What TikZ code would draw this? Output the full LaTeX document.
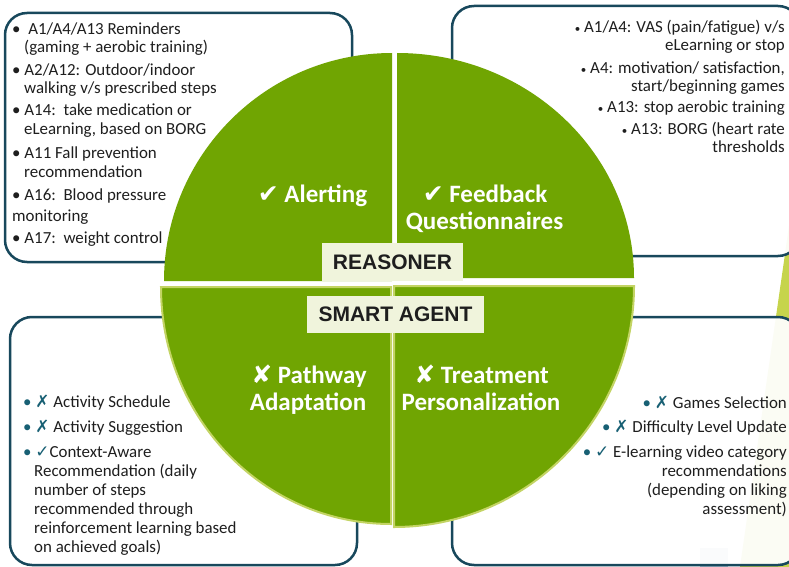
\documentclass[tikz,border=0pt]{standalone}
\usepackage{fontspec}
\setmainfont{Carlito}
\newfontfamily\symfont{DejaVu Sans}
\newfontfamily\tagfont{Liberation Sans}
\definecolor{leaf}{RGB}{112,165,2}
\definecolor{rim}{RGB}{195,212,100}
\definecolor{boxline}{RGB}{24,72,92}
\definecolor{cream}{RGB}{240,244,220}
\definecolor{ink}{RGB}{30,30,30}
\definecolor{tealmark}{RGB}{24,96,116}
\definecolor{lime}{RGB}{198,212,76}
\definecolor{mist}{RGB}{170,190,205}
% marks used in the lists and headings
\newcommand\okmark{{\symfont\char"2713}}
\newcommand\nomark{{\symfont\char"2717}}
\newcommand\hokmark{{\symfont\char"2714}}
\newcommand\hnomark{{\symfont\char"2718}}
\newcommand\tdot{\textcolor{tealmark}{•}}
\newcommand\tok{\textcolor{tealmark}{\okmark}}
\newcommand\tno{\textcolor{tealmark}{\nomark}}
\newcommand\sdot{{\fontsize{11}{11}\selectfont •}}
\begin{document}
\begin{tikzpicture}[x=1pt,y=-1pt,
  panel/.style={draw=boxline, line width=2.5pt, rounded corners=22pt, fill=white, fill opacity=0.94},
  quad/.style={fill=leaf},
  quadrim/.style={fill=leaf, draw=rim, line width=2pt},
  tagbox/.style={fill=cream, inner sep=0pt, text=ink, font=\tagfont\bfseries\fontsize{21}{24}\selectfont},
  item/.style={anchor=base west, inner sep=0pt, text=ink, font=\fontsize{16.9}{18}\selectfont},
  itemr/.style={anchor=base east, inner sep=0pt, text=ink, font=\fontsize{16.9}{18}\selectfont},
  head/.style={anchor=base, inner sep=0pt, text=white, font=\bfseries\fontsize{25}{27}\selectfont}]
\useasboundingbox (0,0) rectangle (789,567);
\clip (0,0) rectangle (789,567);

% background accents on the right
\fill[lime] (789,226) -- (800,200) -- (800,567) -- (740,567) -- cycle;
\fill[mist] (700,548) rectangle (728,570);

% the four rounded panels
\draw[panel] (5,13) rectangle (352,262);
\draw[panel] (452,6) rectangle (800,256);
\draw[panel] (10,317) rectangle (357,565);
\draw[panel] (452,317) rectangle (800,565);

% quarter discs
\fill[quad] (392,281) -- (164,281) arc[start angle=180,end angle=270,x radius=228,y radius=228] -- cycle;
\fill[quad] (397,278) -- (397,53) arc[start angle=270,end angle=360,x radius=237,y radius=225] -- cycle;
\draw[quadrim] (391,287) -- (391,524) arc[start angle=90,end angle=180,x radius=230,y radius=237] -- cycle;
\draw[quadrim] (394,286) -- (634,286) arc[start angle=0,end angle=90,x radius=240,y radius=241] -- cycle;

% layer tags
\node[tagbox, minimum width=141pt, minimum height=38pt] (reasoner) at (392.5,262) {REASONER};
\node[tagbox, minimum width=177pt, minimum height=37pt] (agent) at (395.5,314.5) {SMART AGENT};

% quadrant headings
\node[head] (alert) at (312.5,202) {\hokmark\ Alerting};
\node[head] (fb1) at (485,202) {\hokmark\ Feedback};
\node[head] (fb2) at (484.5,229) {Questionnaires};
\node[head] (pw1) at (309,383) {\hnomark\ Pathway};
\node[head] (pw2) at (308,410) {Adaptation};
\node[head] (tr1) at (481.5,383) {\hnomark\ Treatment};
\node[head] (tr2) at (481,410) {Personalization};

% alerting items
\node[item] (a1) at (12,35) {•\ \ A1/A4/A13 Reminders};
\node[item] (a2) at (24,53) {(gaming + aerobic training)};
\node[item] (a3) at (12,76) {•\ A2/A12: Outdoor/indoor};
\node[item] (a4) at (24,94) {walking v/s prescribed steps};
\node[item] (a5) at (12,116) {•\ A14:\ \ take medication or};
\node[item] (a6) at (24,135) {eLearning, based on BORG};
\node[item] (a7) at (12,158) {•\ A11 Fall prevention};
\node[item] (a8) at (24,177) {recommendation};
\node[item] (a9) at (12,200) {•\ A16:\ \ Blood pressure};
\node[item] (a10) at (12,221) {monitoring};
\node[item] (a11) at (12,243) {•\ A17:\ \ weight control};

% feedback items
\node[itemr] (f1) at (785,33) {\sdot\ A1/A4: VAS (pain/fatigue) v/s};
\node[itemr] (f2) at (785,51) {eLearning or stop};
\node[itemr] (f3) at (785,74) {\sdot\ A4: motivation/ satisfaction,};
\node[itemr] (f4) at (785,92) {start/beginning games};
\node[itemr] (f5) at (785,113) {\sdot\ A13: stop aerobic training};
\node[itemr] (f6) at (785,134) {\sdot\ A13: BORG (heart rate};
\node[itemr] (f7) at (785,152) {thresholds};

% pathway items
\node[item] (p1) at (23,407) {\tdot\ \tno\ Activity Schedule};
\node[item] (p2) at (23,432) {\tdot\ \tno\ Activity Suggestion};
\node[item] (p3) at (23,457) {\tdot\ \tok Context-Aware};
\node[item] (p4) at (34,476) {Recommendation (daily};
\node[item] (p5) at (34,495) {number of steps};
\node[item] (p6) at (34,514) {recommended through};
\node[item] (p7) at (34,533) {reinforcement learning based};
\node[item] (p8) at (34,552) {on achieved goals)};

% treatment items
\node[itemr] (t1) at (787,408) {\tdot\ \tno\ Games Selection};
\node[itemr] (t2) at (787,432) {\tdot\ \tno\ Difficulty Level Update};
\node[itemr] (t3) at (787,457) {\tdot\ \tok\ E-learning video category};
\node[itemr] (t4) at (787,476) {recommendations};
\node[itemr] (t5) at (787,495) {(depending on liking};
\node[itemr] (t6) at (787,514) {assessment)};
\end{tikzpicture}
\end{document}
